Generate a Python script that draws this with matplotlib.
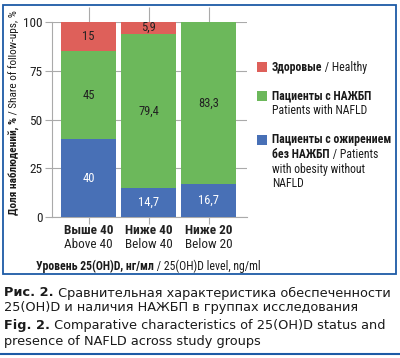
import matplotlib
matplotlib.use('Agg')
import matplotlib.pyplot as plt
from matplotlib import font_manager
from matplotlib.patches import Rectangle
from matplotlib.lines import Line2D

groups_ru = ['Выше 40', 'Ниже 40', 'Ниже 20']
groups_en = ['Above 40', 'Below 40', 'Below 20']
obese = [40, 14.7, 16.7]
nafld = [45, 79.4, 83.3]
healthy = [15, 5.9, 0]

W, H = 400, 358
c_red = '#DE605A'
c_green = '#6CB85B'
c_blue = '#4870B6'
c_frame = '#1D5AA6'
c_grid = '#AAAAAA'

avail = {f.name for f in font_manager.fontManager.ttflist}
cond = next((n for n in ['Roboto Condensed', 'PT Sans Narrow', 'Arial Narrow',
                         'Liberation Sans Narrow', 'Fira Sans Condensed',
                         'Open Sans Condensed', 'Ubuntu Condensed'] if n in avail),
            'DejaVu Sans')
cap = 'DejaVu Sans'

plt.rcParams['font.family'] = [cond, 'DejaVu Sans']

fig = plt.figure(figsize=(W / 100, H / 100), dpi=100)


def px(x, y):
    return x / W, 1 - y / H


def rich(parts, x, y, size, family=cond, rotation=0):
    # parts: list of (text, weight), drawn one after another
    fig.canvas.draw()
    r = fig.canvas.get_renderer()
    cx, cy = x, y
    for txt, wt in parts:
        t = fig.text(*px(cx, cy), txt, fontsize=size, fontweight=wt, family=[family, 'DejaVu Sans'],
                     rotation=rotation, va='center', ha='left', rotation_mode='anchor',
                     color='#1A1A1A')
        bb = t.get_window_extent(renderer=r)
        if rotation == 0:
            cx += bb.width
        else:
            cy -= bb.height


# frame and bottom rule
fig.add_artist(Rectangle(px(3, 274), 393 / W, 269 / H, fill=False, edgecolor=c_frame,
                         linewidth=1.3, transform=fig.transFigure))
fig.add_artist(Line2D([0, 1], [1 - 354 / H] * 2, color=c_frame, linewidth=1.5,
                      transform=fig.transFigure))

ax = fig.add_axes([52 / W, 1 - 217 / H, 195 / W, 195 / H])
x = range(len(groups_ru))
bw = 0.92
bot2 = [a + b for a, b in zip(obese, nafld)]
ax.bar(x, obese, bw, color=c_blue, zorder=3)
ax.bar(x, nafld, bw, bottom=obese, color=c_green, zorder=3)
ax.bar(x, healthy, bw, bottom=bot2, color=c_red, zorder=3)


def fmt(v):
    return f'{v:g}'.replace('.', ',')


for i in x:
    ax.text(i, obese[i] / 2, fmt(obese[i]), ha='center', va='center',
            color='white', fontsize=9, zorder=4)
    ax.text(i, obese[i] + nafld[i] / 2, fmt(nafld[i]), ha='center',
            va='center', color='#222222', fontsize=9, zorder=4)
    if healthy[i] > 0:
        ax.text(i, bot2[i] + healthy[i] / 2, fmt(healthy[i]), ha='center',
                va='center', color='#222222', fontsize=9, zorder=4)

ax.set_xlim(-0.61, 2.64)
ax.set_ylim(0, 100)
ax.set_yticks([0, 25, 50, 75, 100])
ax.set_xticks(list(x))
ax.set_xticklabels([])
ax.grid(axis='y', color=c_grid, linewidth=0.8, zorder=0)
for s in ['top', 'right']:
    ax.spines[s].set_visible(False)
ax.spines['left'].set_color(c_grid)
ax.spines['bottom'].set_color(c_grid)
ax.tick_params(axis='y', length=5, color=c_grid, labelsize=9.5, pad=2, labelcolor='#222222')
ax.tick_params(axis='x', length=5, color=c_grid, top=True, bottom=True)
for tl in ax.xaxis.get_ticklines():
    if tl.get_marker() == 2:  # top ticks are longer
        tl.set_markersize(11)

for i in x:
    ax.text(i, -6.8, groups_ru[i], ha='center', va='center', fontsize=9.5, fontweight='bold',
            color='#222222')
    ax.text(i, -14, groups_en[i], ha='center', va='center', fontsize=9.5, color='#222222')

# axis titles
rich([('Доля наблюдений, %', 'bold'), (' / Share of follow-ups, %', 'normal')],
     14, 215, 8.1, rotation=90)
rich([('Уровень 25(OH)D, нг/мл', 'bold'), (' / 25(OH)D level, ng/ml', 'normal')],
     36, 266, 8.5)

# legend
leg = [(c_red, 67, [[('Здоровые', 'bold'), (' / Healthy', 'normal')]]),
       (c_green, 96, [[('Пациенты с НАЖБП', 'bold')], [('Patients with NAFLD', 'normal')]]),
       (c_blue, 140, [[('Пациенты с ожирением', 'bold')],
                      [('без НАЖБП', 'bold'), (' / Patients', 'normal')],
                      [('with obesity without', 'normal')], [('NAFLD', 'normal')]])]
for col, y0, lines in leg:
    fig.add_artist(Rectangle(px(257, y0 + 5), 10 / W, 10 / H, facecolor=col,
                             edgecolor='none', transform=fig.transFigure))
    for k, ln in enumerate(lines):
        rich(ln, 272, y0 + k * 14.5, 8.5)

# caption
rich([('Рис. 2.', 'bold'), (' Сравнительная характеристика обеспеченности', 'normal')],
     4, 293, 9.3, family=cap)
rich([('25(OH)D и наличия НАЖБП в группах исследования', 'normal')], 4, 308, 9.3, family=cap)
rich([('Fig. 2.', 'bold'), (' Comparative characteristics of 25(OH)D status and', 'normal')],
     4, 326, 9.3, family=cap)
rich([('presence of NAFLD across study groups', 'normal')], 4, 341, 9.3, family=cap)

fig.savefig('out.png', dpi=100)
